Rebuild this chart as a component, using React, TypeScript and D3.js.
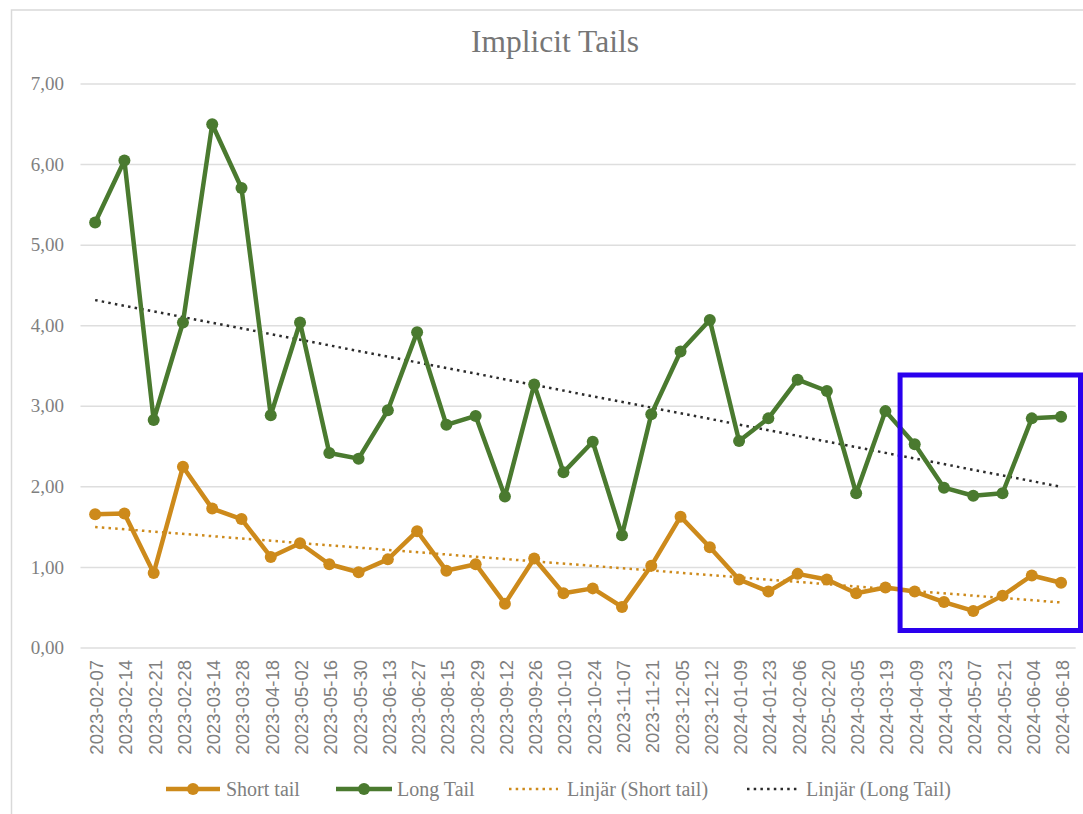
import React, { useEffect, useRef } from "react";
import * as d3 from "d3";

const dates = [
  "2023-02-07", "2023-02-14", "2023-02-21", "2023-02-28", "2023-03-14", "2023-03-28",
  "2023-04-18", "2023-05-02", "2023-05-16", "2023-05-30", "2023-06-13", "2023-06-27",
  "2023-08-15", "2023-08-29", "2023-09-12", "2023-09-26", "2023-10-10", "2023-10-24",
  "2023-11-07", "2023-11-21", "2023-12-05", "2023-12-12", "2024-01-09", "2024-01-23",
  "2024-02-06", "2025-02-20", "2024-03-05", "2024-03-19", "2024-04-09", "2024-04-23",
  "2024-05-07", "2024-05-21", "2024-06-04", "2024-06-18",
];

const shortTail = [
  1.66, 1.67, 0.93, 2.25, 1.73, 1.60, 1.13, 1.30, 1.04, 0.94, 1.10, 1.45,
  0.96, 1.04, 0.55, 1.11, 0.68, 0.74, 0.51, 1.02, 1.63, 1.25, 0.85, 0.70,
  0.92, 0.85, 0.68, 0.75, 0.70, 0.57, 0.46, 0.65, 0.90, 0.81,
];

const longTail = [
  5.28, 6.05, 2.83, 4.04, 6.50, 5.71, 2.89, 4.04, 2.42, 2.35, 2.95, 3.92,
  2.77, 2.88, 1.88, 3.27, 2.18, 2.56, 1.40, 2.90, 3.68, 4.07, 2.57, 2.85,
  3.33, 3.19, 1.92, 2.94, 2.53, 1.99, 1.89, 1.92, 2.85, 2.87,
];

const yTicks = [0, 1, 2, 3, 4, 5, 6, 7];

// highlighted range (last six points)
const highlightFrom = "2024-04-09";

const ORANGE = "#cd8a1b";
const GREEN = "#4a7a2f";
const TREND_DARK = "#2b2b2b";
const GRID = "#dedede";
const TEXT = "#7f7f7f";

const W = 1083;
const H = 814;

// least squares line over the category index, like Excel's "Linjär"
function linearFit(values: number[]) {
  const n = values.length;
  const xs = d3.range(n);
  const mx = d3.mean(xs) as number;
  const my = d3.mean(values) as number;
  let num = 0;
  let den = 0;
  xs.forEach((x, i) => {
    num += (x - mx) * (values[i] - my);
    den += (x - mx) * (x - mx);
  });
  const slope = num / den;
  const intercept = my - slope * mx;
  return (x: number) => intercept + slope * x;
}

export default function App() {
  const ref = useRef<SVGSVGElement>(null);

  useEffect(() => {
    const svg = d3.select(ref.current);
    svg.selectAll("*").remove();

    const x = d3.scaleBand<string>()
      .domain(dates)
      .range([80.5, 1075.7])
      .padding(0);
    const cx = (d: string) => (x(d) as number) + x.bandwidth() / 2;

    const y = d3.scaleLinear().domain([0, 7]).range([648, 84]);

    // chart frame
    svg.append("rect")
      .attr("x", 11.5)
      .attr("y", 10)
      .attr("width", 1100)
      .attr("height", 820)
      .attr("fill", "#fff")
      .attr("stroke", "#d9d9d9")
      .attr("stroke-width", 1.5);

    svg.append("text")
      .attr("x", 555)
      .attr("y", 52)
      .attr("text-anchor", "middle")
      .attr("font-family", "'Liberation Serif', serif")
      .attr("font-size", 31.5)
      .attr("fill", "#767676")
      .text("Implicit Tails");

    // gridlines + y labels
    const grid = svg.append("g");
    grid.selectAll("line")
      .data(yTicks)
      .enter()
        .append("line")
          .attr("x1", 80.5)
          .attr("x2", 1075.7)
          .attr("y1", (d) => y(d))
          .attr("y2", (d) => y(d))
          .attr("stroke", GRID)
          .attr("stroke-width", 1.5);

    grid.selectAll("text")
      .data(yTicks)
      .enter()
        .append("text")
          .attr("x", 64)
          .attr("y", (d) => y(d))
          .attr("dy", "0.32em")
          .attr("text-anchor", "end")
          .attr("font-family", "'Liberation Serif', serif")
          .attr("font-size", 19)
          .attr("fill", TEXT)
          .text((d) => d3.format(".2f")(d).replace(".", ","));

    // x labels, rotated
    svg.append("g")
      .selectAll("text")
      .data(dates)
      .enter()
        .append("text")
          .attr("transform", (d) => `translate(${cx(d) + 8}, 660) rotate(-90)`)
          .attr("text-anchor", "end")
          .attr("font-family", "'Liberation Sans', sans-serif")
          .attr("font-size", 18.5)
          .attr("fill", TEXT)
          .text((d) => d);

    // trend lines
    const trends = [
      { values: shortTail, color: ORANGE },
      { values: longTail, color: TREND_DARK },
    ];
    trends.forEach((t) => {
      const fit = linearFit(t.values);
      svg.append("line")
        .attr("x1", cx(dates[0]))
        .attr("x2", cx(dates[dates.length - 1]))
        .attr("y1", y(fit(0)))
        .attr("y2", y(fit(dates.length - 1)))
        .attr("stroke", t.color)
        .attr("stroke-width", 2.5)
        .attr("stroke-dasharray", "2.5 4.2");
    });

    const line = d3.line<number>()
      .x((d, i) => cx(dates[i]))
      .y((d) => y(d));

    const series = [
      { values: shortTail, color: ORANGE },
      { values: longTail, color: GREEN },
    ];
    series.forEach((s) => {
      const g = svg.append("g");
      g.append("path")
        .datum(s.values)
        .attr("d", line)
        .attr("fill", "none")
        .attr("stroke", s.color)
        .attr("stroke-width", 4.5)
        .attr("stroke-linejoin", "round");
      g.selectAll("circle")
        .data(s.values)
        .enter()
          .append("circle")
            .attr("cx", (d, i) => cx(dates[i]))
            .attr("cy", (d) => y(d))
            .attr("r", 6)
            .attr("fill", s.color);
    });

    // blue highlight box around the last weeks
    const hx = x(highlightFrom) as number;
    svg.append("rect")
      .attr("x", hx)
      .attr("y", 375)
      .attr("width", 1080.5 - hx)
      .attr("height", 255.5)
      .attr("fill", "none")
      .attr("stroke", "#2a00ee")
      .attr("stroke-width", 5);

    // legend
    const legendY = 789;
    const legend = [
      { label: "Short tail", color: ORANGE, dotted: false, x0: 166, x1: 220, tx: 226 },
      { label: "Long Tail", color: GREEN, dotted: false, x0: 336, x1: 392, tx: 397 },
      { label: "Linjär (Short tail)", color: ORANGE, dotted: true, x0: 509, x1: 558, tx: 567 },
      { label: "Linjär (Long Tail)", color: TREND_DARK, dotted: true, x0: 747, x1: 797, tx: 806 },
    ];
    const lg = svg.append("g");
    legend.forEach((l) => {
      lg.append("line")
        .attr("x1", l.x0)
        .attr("x2", l.x1)
        .attr("y1", legendY)
        .attr("y2", legendY)
        .attr("stroke", l.color)
        .attr("stroke-width", l.dotted ? 2.5 : 4.5)
        .attr("stroke-dasharray", l.dotted ? "2.5 4.2" : null);
      if (!l.dotted) {
        lg.append("circle")
          .attr("cx", (l.x0 + l.x1) / 2)
          .attr("cy", legendY)
          .attr("r", 6)
          .attr("fill", l.color);
      }
      lg.append("text")
        .attr("x", l.tx)
        .attr("y", legendY)
        .attr("dy", "0.33em")
        .attr("font-family", "'Liberation Serif', serif")
        .attr("font-size", 20)
        .attr("fill", TEXT)
        .text(l.label);
    });
  }, []);

  return (
    <svg
      ref={ref}
      width={W}
      height={H}
      style={{ position: "absolute", left: 0, top: 0, display: "block" }}
    />
  );
}
